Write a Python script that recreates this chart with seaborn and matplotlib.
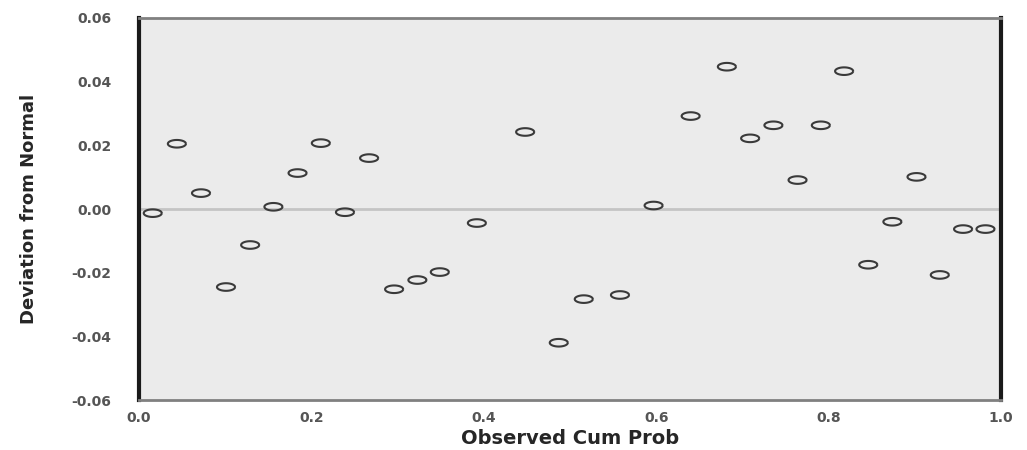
import matplotlib as mtl
mtl.use('Agg')
import matplotlib.pyplot as plt
from matplotlib.path import Path
import numpy as np
import pandas as pd
import seaborn as sns

# observed cumulative probability vs deviation from normal (detrended P-P)
obs_cum_prob = [0.016, 0.044, 0.072, 0.101, 0.129, 0.156, 0.184, 0.211, 0.239,
                0.267, 0.296, 0.323, 0.349, 0.392, 0.448, 0.487, 0.516, 0.558,
                0.597, 0.640, 0.682, 0.709, 0.736, 0.764, 0.791, 0.818, 0.846,
                0.874, 0.902, 0.929, 0.956, 0.982]
deviation = [-0.0013, 0.0205, 0.0050, -0.0245, -0.0113, 0.0007, 0.0113, 0.0207,
             -0.0010, 0.0160, -0.0252, -0.0223, -0.0198, -0.0044, 0.0242, -0.0420,
             -0.0283, -0.0270, 0.0011, 0.0292, 0.0447, 0.0222, 0.0263, 0.0091,
             0.0263, 0.0433, -0.0175, -0.0040, 0.0101, -0.0207, -0.0063, -0.0063]

x_ticks = [0.0, 0.2, 0.4, 0.6, 0.8, 1.0]
y_ticks = [-0.06, -0.04, -0.02, 0.00, 0.02, 0.04, 0.06]

df = pd.DataFrame({"Observed Cum Prob": obs_cum_prob, "Deviation from Normal": deviation})

sns.set_style("white")
plt.rcParams['font.family'] = ['DejaVu Sans']

# hollow flattened ellipse marker (the original chart is stretched sideways)
t = np.linspace(0, 2 * np.pi, 40)
ellipse = Path(np.column_stack([np.cos(t), 0.42 * np.sin(t)]))

fig = plt.figure(figsize=(10.27, 4.5), dpi=100)
ax = fig.add_axes([0.1353, 0.111, 0.8394, 0.849])
ax.set_facecolor("#ebebeb")

ax.axhline(0, color="#c4c4c4", lw=2, zorder=1)
sns.scatterplot(data=df, x="Observed Cum Prob", y="Deviation from Normal", ax=ax,
                marker=ellipse, s=170, facecolor="none", edgecolor="#3a3a3a",
                linewidth=1.5, zorder=3)

ax.set_xlim(0, 1)
ax.set_ylim(-0.06, 0.06)
ax.set_xticks(x_ticks)
ax.set_xticklabels(["%.1f" % v for v in x_ticks])
ax.set_yticks(y_ticks)
ax.set_yticklabels(["%.2f" % v for v in y_ticks])

for side in ["top", "bottom"]:
    ax.spines[side].set_color("#808080")
    ax.spines[side].set_linewidth(2)
for side in ["left", "right"]:
    ax.spines[side].set_color("#1a1a1a")
    ax.spines[side].set_linewidth(3)

ax.tick_params(axis="y", length=15, width=1.5, color="#999999", pad=5,
               labelsize=10, labelcolor="#555555")
ax.tick_params(axis="x", length=5, width=2, color="#333333", pad=3,
               labelsize=10, labelcolor="#555555")
for lab in ax.get_xticklabels() + ax.get_yticklabels():
    lab.set_fontweight("bold")

ax.set_xlabel("Observed Cum Prob", fontsize=14, fontweight="bold", labelpad=3)
ax.set_ylabel("Deviation from Normal", fontsize=13, fontweight="bold", labelpad=24)

plt.savefig("out.png", dpi=100)
